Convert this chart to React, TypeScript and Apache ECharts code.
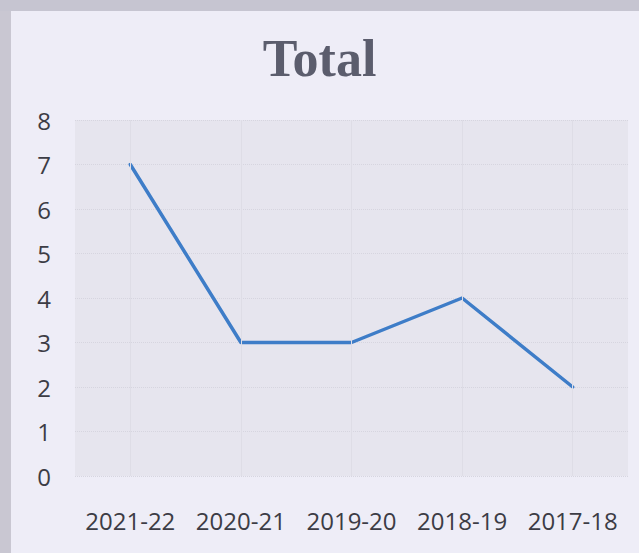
import React, { useEffect, useRef } from "react";
import * as echarts from "echarts";

const categories: string[] = ["2021-22", "2020-21", "2019-20", "2018-19", "2017-18"];
const totals: number[] = [7, 3, 3, 4, 2];
const titleText = "Total";

export default function App() {
  const ref = useRef<HTMLDivElement | null>(null);
  useEffect(() => {
    if (!ref.current) return;
    const chart = echarts.init(ref.current, null, { renderer: "svg" });
    chart.setOption({
      animation: false,
      backgroundColor: "#eeedf7",
      title: {
        text: titleText,
        left: "center",
        top: 32,
        padding: 0,
        textStyle: {
          fontFamily: "Liberation Serif",
          fontWeight: "bold",
          fontSize: 52,
          color: "#5b5d6d",
        },
      },
      graphic: [
        { type: "rect", left: 0, top: 0, shape: { width: 11, height: 553 }, style: { fill: "#c9c7d2" }, silent: true },
        { type: "rect", left: 0, top: 0, shape: { width: 639, height: 11 }, style: { fill: "#c6c5d1" }, silent: true },
      ],
      grid: {
        left: 75,
        right: 11,
        top: 120,
        bottom: 77,
        show: true,
        backgroundColor: "#e6e5ee",
        borderWidth: 0,
      },
      xAxis: {
        type: "category",
        data: categories,
        boundaryGap: true,
        axisLine: { show: false },
        axisTick: { show: false },
        splitLine: { show: false },
        axisLabel: {
          interval: 0,
          hideOverlap: false,
          margin: 32,
          fontSize: 24,
          fontFamily: "Open Sans",
          color: "#3c3c45",
        },
      },
      yAxis: {
        type: "value",
        min: 0,
        max: 8,
        interval: 1,
        axisLine: { show: false },
        axisTick: { show: false },
        splitLine: { show: true, lineStyle: { color: "#d6d5df", type: "dotted", width: 1 } },
        axisLabel: {
          margin: 24,
          fontSize: 24,
          fontFamily: "Open Sans",
          color: "#3c3c45",
        },
      },
      series: [
        {
          type: "line",
          data: totals,
          symbol: "none",
          lineStyle: { color: "#3e7dc8", width: 3.5, cap: "round", join: "round" },
          markLine: {
            silent: true,
            symbol: ["none", "none"],
            label: { show: false },
            lineStyle: { color: "#dedde6", type: "solid", width: 1 },
            data: categories.map((c) => ({ xAxis: c })),
          },
        },
      ],
    });
    return () => chart.dispose();
  }, []);
  return (
    <div
      ref={ref}
      style={{ position: "fixed", left: 0, top: 0, width: 639, height: 553 }}
    />
  );
}
